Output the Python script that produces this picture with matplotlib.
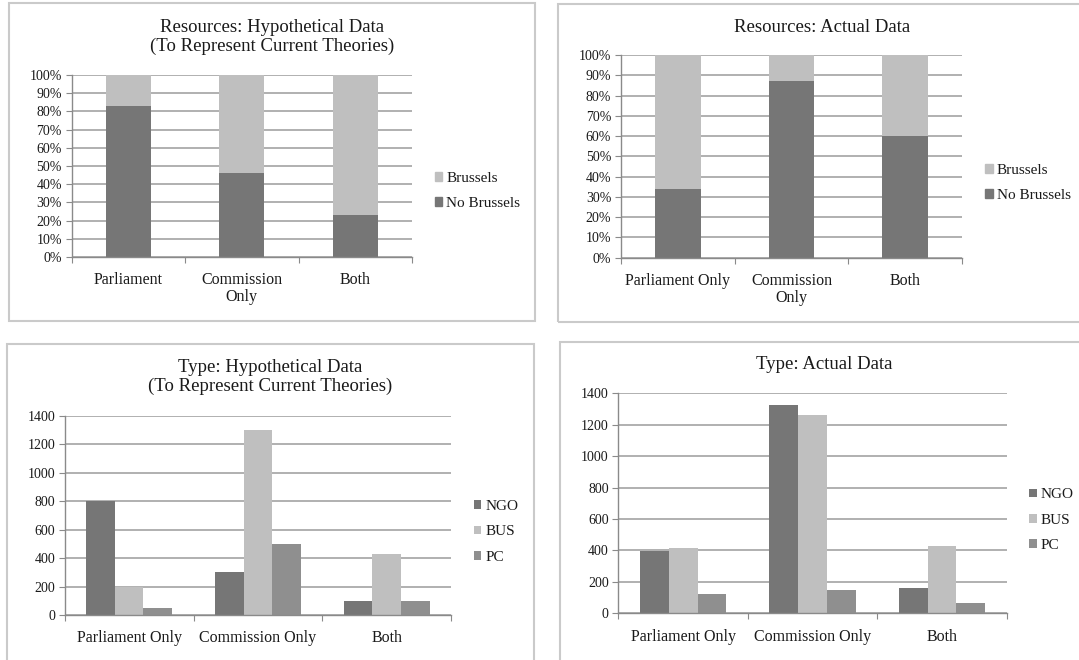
import numpy as np
import matplotlib
matplotlib.use("Agg")
import matplotlib.pyplot as plt
from matplotlib.patches import Rectangle, Patch

plt.rcParams['font.family'] = ['Liberation Serif', 'DejaVu Serif']

# data
res_hyp_cats = ["Parliament", "Commission\nOnly", "Both"]
res_act_cats = ["Parliament Only", "Commission\nOnly", "Both"]
type_cats = ["Parliament Only", "Commission Only", "Both"]

res_hyp_no_brussels = [83, 46, 23]
res_hyp_brussels = [17, 54, 77]
res_act_no_brussels = [34, 87, 60]
res_act_brussels = [66, 13, 40]

type_labels = ["NGO", "BUS", "PC"]
type_hyp_ngo = [800, 300, 100]
type_hyp_bus = [200, 1300, 430]
type_hyp_pc = [50, 500, 100]
type_act_ngo = [395, 1325, 160]
type_act_bus = [415, 1260, 425]
type_act_pc = [125, 150, 65]

DARK = '#767676'
LIGHT = '#bfbfbf'
MID = '#8f8f8f'
GRID = '#a3a3a3'
TXT = '#1a1a1a'

fig = plt.figure(figsize=(10.79, 6.6), dpi=100)

# panel frames
for x0, y0, w, h in [(0.008, 0.5136, 0.4879, 0.4818),
                     (0.5171, 0.5121, 0.52, 0.4818),
                     (0.0065, -0.02, 0.4884, 0.4988),
                     (0.519, -0.02, 0.52, 0.5023)]:
    fig.patches.append(Rectangle((x0, y0), w, h, transform=fig.transFigure,
                                 fill=False, edgecolor='#cacaca', lw=1.5))


def style_axes(ax, cats, ymax, step):
    ax.set_xlim(-0.5, 2.5)
    ax.set_ylim(0, ymax)
    ax.set_yticks(np.arange(0, ymax + step / 2, step))
    ax.yaxis.grid(True, color=GRID, lw=1.2)
    ax.set_axisbelow(True)
    for s in ['top', 'right']:
        ax.spines[s].set_visible(False)
    for s in ['left', 'bottom']:
        ax.spines[s].set_color('#8a8a8a')
        ax.spines[s].set_linewidth(1.0)
    ax.set_xticks([-0.5, 0.5, 1.5, 2.5])
    ax.set_xticklabels([])
    ax.set_xticks([0, 1, 2], minor=True)
    ax.set_xticklabels(cats, minor=True, fontsize=11.5, color=TXT,
                       linespacing=1.1)
    ax.tick_params(axis='x', which='major', direction='out', length=4,
                   color='#8a8a8a')
    ax.tick_params(axis='x', which='minor', length=0, pad=11)
    ax.tick_params(axis='y', direction='out', length=4, color='#8a8a8a',
                   labelsize=10, labelcolor=TXT, pad=3)


def add_legend(ax, handles, x, y):
    ax.legend(handles=handles, loc='center left', bbox_to_anchor=(x, y),
              bbox_transform=fig.transFigure, frameon=False, fontsize=11,
              handlelength=0.5, handleheight=0.5, handletextpad=0.25,
              labelspacing=0.8, borderpad=0, borderaxespad=0,
              labelcolor=TXT)


pos = np.arange(3)

# top left: resources hypothetical
ax1 = fig.add_axes([0.0664, 0.6106, 0.3154, 0.2758])
ax1.bar(pos, res_hyp_no_brussels, 0.4, color=DARK)
ax1.bar(pos, res_hyp_brussels, 0.4, bottom=res_hyp_no_brussels, color=LIGHT)
style_axes(ax1, res_hyp_cats, 100, 10)
ax1.set_yticklabels([f"{v}%" for v in range(0, 101, 10)])
add_legend(ax1, [Patch(color=LIGHT, label="Brussels"),
                 Patch(color=DARK, label="No Brussels")], 0.403, 0.711)
fig.text(0.252, 0.944, "Resources: Hypothetical Data\n(To Represent Current Theories)",
         ha='center', va='center', fontsize=13.5, color=TXT, linespacing=1.1)

# top right: resources actual
ax2 = fig.add_axes([0.5755, 0.6095, 0.3160, 0.3071])
ax2.bar(pos, res_act_no_brussels, 0.4, color=DARK)
ax2.bar(pos, res_act_brussels, 0.4, bottom=res_act_no_brussels, color=LIGHT)
style_axes(ax2, res_act_cats, 100, 10)
ax2.set_yticklabels([f"{v}%" for v in range(0, 101, 10)])
add_legend(ax2, [Patch(color=LIGHT, label="Brussels"),
                 Patch(color=DARK, label="No Brussels")], 0.913, 0.723)
fig.text(0.762, 0.959, "Resources: Actual Data",
         ha='center', va='center', fontsize=13.5, color=TXT)

# bottom panels: clustered bars
w = 0.222
ax3 = fig.add_axes([0.0600, 0.0682, 0.3580, 0.3015])
ax3.bar(pos - w, type_hyp_ngo, w, color=DARK, label=type_labels[0])
ax3.bar(pos, type_hyp_bus, w, color=LIGHT, label=type_labels[1])
ax3.bar(pos + w, type_hyp_pc, w, color=MID, label=type_labels[2])
style_axes(ax3, type_cats, 1400, 200)
add_legend(ax3, None, 0.439, 0.194)
fig.text(0.250, 0.429, "Type: Hypothetical Data\n(To Represent Current Theories)",
         ha='center', va='center', fontsize=13.5, color=TXT, linespacing=1.1)

ax4 = fig.add_axes([0.5732, 0.0708, 0.3597, 0.3333])
ax4.bar(pos - w, type_act_ngo, w, color=DARK, label=type_labels[0])
ax4.bar(pos, type_act_bus, w, color=LIGHT, label=type_labels[1])
ax4.bar(pos + w, type_act_pc, w, color=MID, label=type_labels[2])
style_axes(ax4, type_cats, 1400, 200)
add_legend(ax4, None, 0.954, 0.212)
fig.text(0.764, 0.447, "Type: Actual Data",
         ha='center', va='center', fontsize=13.5, color=TXT)

fig.savefig("out.png", dpi=100)
